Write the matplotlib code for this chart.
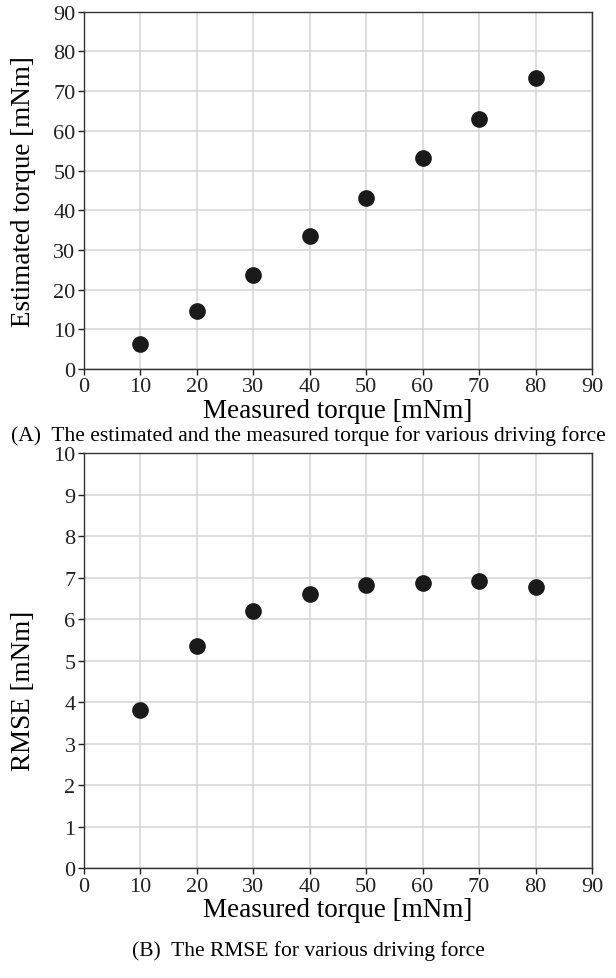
import matplotlib.pyplot as plt

# data
measured = [10, 20, 30, 40, 50, 60, 70, 80]
estimated = [6.2, 14.7, 23.8, 33.4, 43.2, 53.2, 63.1, 73.3]
rmse = [3.82, 5.35, 6.2, 6.6, 6.82, 6.87, 6.93, 6.77]

plt.rcParams['font.family'] = ['Liberation Serif', 'DejaVu Serif']

fig = plt.figure(figsize=(6.16, 9.79), dpi=100)


def style_axes(ax, ymax, ystep):
    ax.set_xlim(0, 90)
    ax.set_ylim(0, ymax)
    ax.set_xticks(range(0, 91, 10))
    ax.set_yticks(range(0, ymax + 1, ystep))
    ax.grid(True, color='#d4d4d4', linewidth=1.1)
    ax.set_axisbelow(True)
    ax.tick_params(labelsize=16, direction='out', length=4, width=1,
                   colors='#222222', pad=2)
    for s in ax.spines.values():
        s.set_color('#333333')
        s.set_linewidth(1.0)


ax1 = fig.add_axes([0.136, 0.622, 0.825, 0.365])
ax1.plot(measured, estimated, 'o', color='#1a1a1a', markersize=11)
style_axes(ax1, 90, 10)
ax1.set_xlabel('Measured torque [mNm]', fontsize=19.5, labelpad=1)
ax1.set_ylabel('Estimated torque [mNm]', fontsize=19.5)
ax1.yaxis.set_label_coords(-0.094, 0.5)
fig.text(0.5, 0.555, '(A)  The estimated and the measured torque for various driving force',
         ha='center', va='center', fontsize=15.5)

ax2 = fig.add_axes([0.136, 0.112, 0.825, 0.424])
ax2.plot(measured, rmse, 'o', color='#1a1a1a', markersize=11)
style_axes(ax2, 10, 1)
ax2.set_xlabel('Measured torque [mNm]', fontsize=19.5, labelpad=1)
ax2.set_ylabel('RMSE [mNm]', fontsize=19.5)
ax2.yaxis.set_label_coords(-0.094, 0.43)
fig.text(0.5, 0.029, '(B)  The RMSE for various driving force',
         ha='center', va='center', fontsize=15.5)

fig.savefig('out.png', dpi=100)
